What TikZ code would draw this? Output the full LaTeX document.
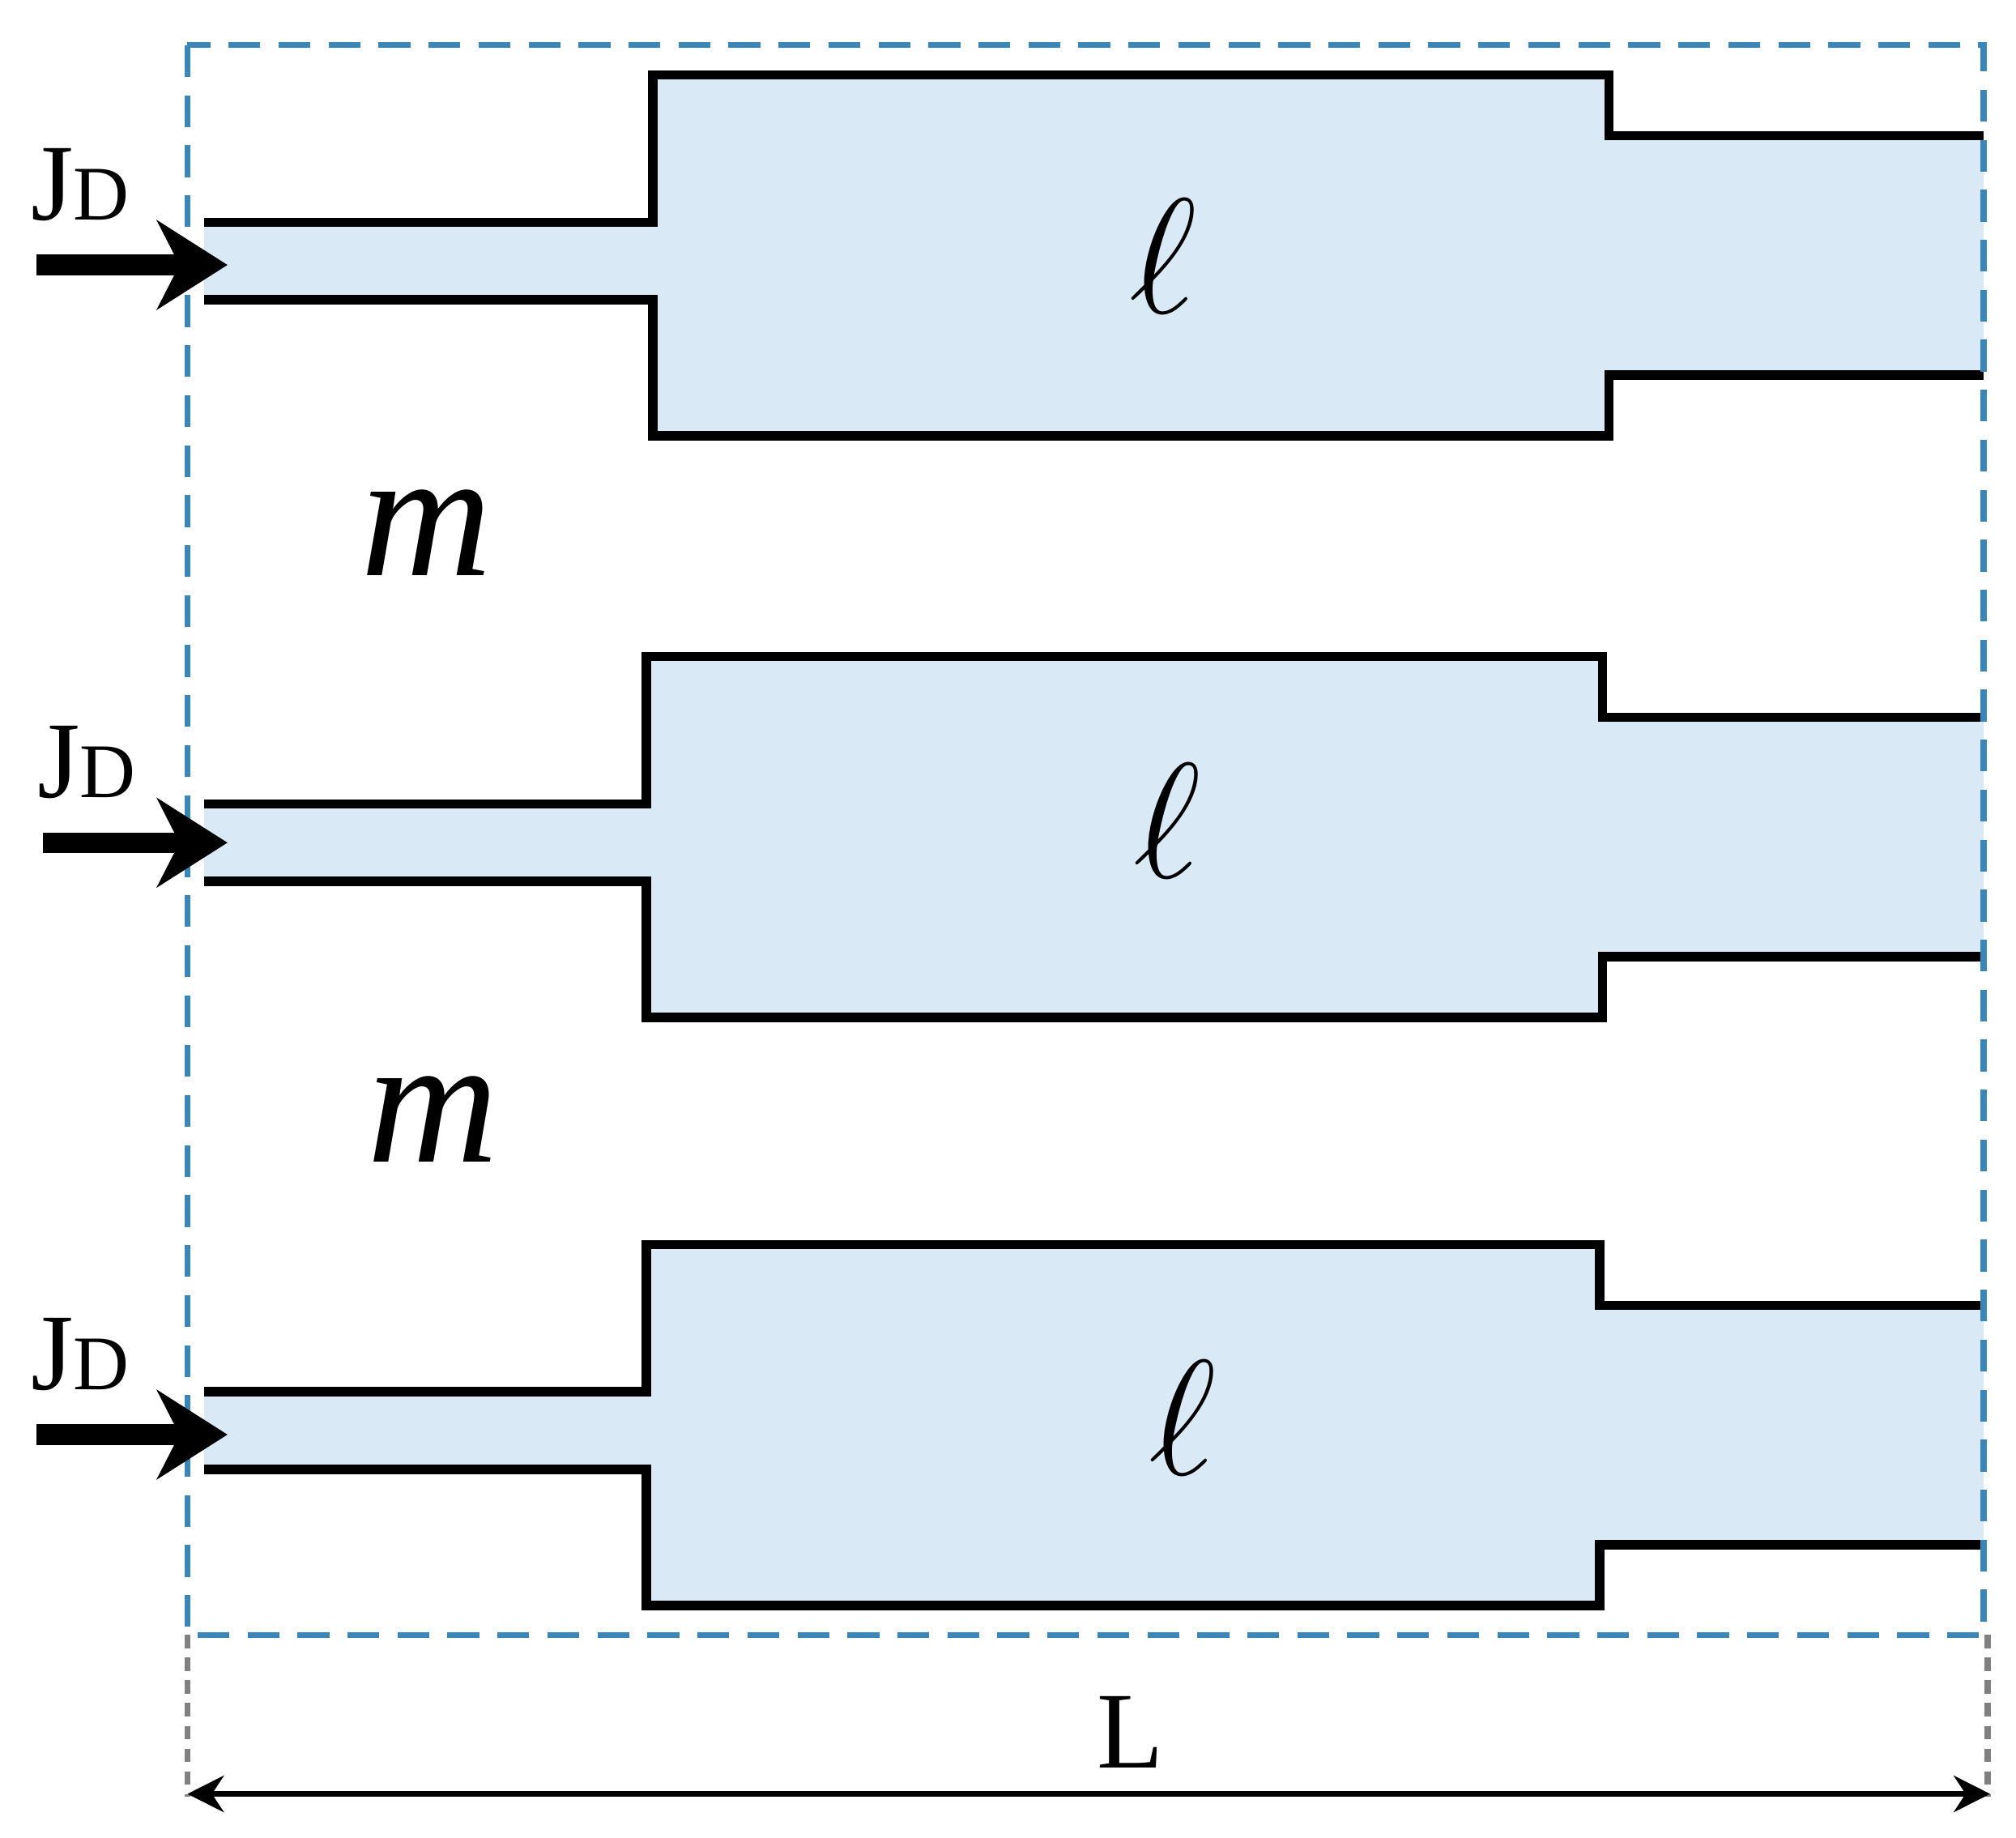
\documentclass[tikz,border=0pt]{standalone}
\usepackage{fontspec}
\setmainfont{Liberation Serif}
\usetikzlibrary{arrows.meta}
\definecolor{fillb}{HTML}{DAE9F6}
\definecolor{dashb}{HTML}{3A86B8}
\begin{document}
\begin{tikzpicture}[x=0.01cm,y=-0.01cm,
  wall/.style={line width=2.1pt,black},
  lab/.style={font=\fontsize{24}{28}\selectfont},
  ell/.style={font=\fontsize{24}{28}\selectfont,scale=1.45},
  inarr/.style={line width=4.5pt,-{Stealth[length=5.5mm,width=7mm,line width=0pt]}}]
\useasboundingbox (0,0) rectangle (1560,1422);
\foreach \dy/\xb/\xs in {0/505/1245, 450/500/1240, 905/500/1238}{
  \begin{scope}[yshift=-\dy*0.01cm]
  \fill[fillb] (158,172) -- (\xb,172) -- (\xb,58) -- (\xs,58) -- (\xs,105) -- (1535,105) -- (1535,290) -- (\xs,290) -- (\xs,337) -- (\xb,337) -- (\xb,232) -- (158,232) -- cycle;
  \draw[wall] (158,172) -- (\xb,172) -- (\xb,58) -- (\xs,58) -- (\xs,105) -- (1535,105);
  \draw[wall] (158,232) -- (\xb,232) -- (\xb,337) -- (\xs,337) -- (\xs,290) -- (1535,290);
  \end{scope}}
\draw[dashb,line width=1.3pt,dash pattern=on 7pt off 4pt] (145,35) rectangle (1535,1265);
\draw[gray,line width=1.3pt,dash pattern=on 3pt off 2pt] (145,1265) -- (145,1390) (1538,1265) -- (1538,1390);
\coordinate (dl) at (145,1388); \coordinate (dr) at (1540,1388);
\draw[line width=1.3pt,{Stealth[length=8pt,width=8pt]}-{Stealth[length=8pt,width=8pt]}] (dl) -- (dr);
\node[lab] (L) at (875,1340) {L};
\foreach \i/\y/\x in {1/205/0,2/652/5,3/1110/0}{
  \coordinate (a\i) at (28+\x,\y); \coordinate (b\i) at (176,\y);
  \draw[inarr] (a\i) -- (b\i);
  \node[lab] (jd\i) at (62+\x,\y-62) {J{\fontsize{17}{20}\selectfont D}};}
\node[font=\fontsize{40}{44}\selectfont\itshape] (m1) at (330,412) {m};
\node[font=\fontsize{40}{44}\selectfont\itshape] (m2) at (335,866) {m};
\node[ell] (l1) at (900,198) {$\ell$};
\node[ell] (l2) at (903,635) {$\ell$};
\node[ell] (l3) at (915,1097) {$\ell$};
\end{tikzpicture}
\end{document}
